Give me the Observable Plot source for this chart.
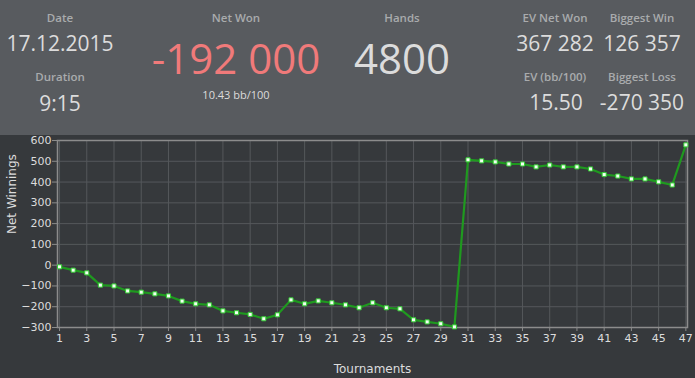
<!DOCTYPE html>
<html><head><meta charset="utf-8">
<script src="https://cdn.jsdelivr.net/npm/d3@7"></script>
<script src="https://cdn.jsdelivr.net/npm/@observablehq/plot@0.6"></script>
<style>
html,body{margin:0;padding:0;background:#36393c;}
#wrap{width:695px;height:378px;position:relative;overflow:hidden;}
#head{position:absolute;left:0;top:0;width:695px;height:135px;background:#585b5f;font-family:"Open Sans",sans-serif;}
.t{position:absolute;transform:translate(-50%,-50%);white-space:nowrap;line-height:1;}
.lab{color:#a9abad;font-size:11.5px;font-weight:600;}
.val{color:#dcdcdc;font-size:21px;}
.big{font-size:42px;color:#dcdcdc;}
#chart{position:absolute;left:0;top:135px;width:695px;height:243px;background:#36393c;}
</style></head>
<body><div id="wrap">
<div id="head"></div>
<div id="chart"></div>
</div>
<script>
// Header statistics
const statLabels = ["Date","Duration","Net Won","Hands","EV Net Won","EV (bb/100)","Biggest Win","Biggest Loss"];
const statValues = ["17.12.2015","9:15","-192 000","4800","367 282","15.50","126 357","-270 350"];
const subValue = "10.43 bb/100";

// Chart data
const tournaments = d3.range(1, 48);
const netWinnings = [-8,-24,-37,-96,-100,-124,-130,-138,-148,-173,-186,-191,-220,-229,-237,-258,-239,-167,-186,-172,-181,-191,-205,-181,-205,-210,-263,-273,-282,-297,507,502,497,487,487,473,482,473,473,463,436,429,415,415,401,386,579];
const yTicks = d3.range(-300, 601, 100);
const xTicks = d3.range(1, 48, 2);

const head = document.getElementById("head");
function put(text, cls, x, y, extra) {
  const d = document.createElement("div");
  d.className = "t " + cls;
  d.textContent = text;
  d.style.left = x + "px"; d.style.top = y + "px";
  if (extra) Object.assign(d.style, extra);
  head.appendChild(d);
}
put(statLabels[0], "lab", 60, 18);
put(statValues[0], "val", 60, 43);
put(statLabels[1], "lab", 60, 77);
put(statValues[1], "val", 60, 103);
put(statLabels[2], "lab", 236, 18);
put(statValues[2], "big", 236, 58, {color:"#f07a7a"});
put(subValue, "lab", 236, 94, {color:"#dcdcdc", fontWeight:"400", fontSize:"11px"});
put(statLabels[3], "lab", 402, 18);
put(statValues[3], "big", 402, 58);
put(statLabels[4], "lab", 555, 18);
put(statValues[4], "val", 555, 43);
put(statLabels[5], "lab", 555, 77);
put(statValues[5], "val", 556, 102);
put(statLabels[6], "lab", 642, 18);
put(statValues[6], "val", 642, 43);
put(statLabels[7], "lab", 642, 77);
put(statValues[7], "val", 642, 102);

const data = tournaments.map((t, i) => ({t, v: netWinnings[i]}));

const chart = Plot.plot({
  width: 695, height: 243,
  marginTop: 5, marginRight: 8, marginBottom: 51, marginLeft: 57,
  style: {background: "transparent", color: "#dcdcdc", fontFamily: "DejaVu Sans", fontSize: "11px"},
  x: {domain: [0.85, 47.12], label: null},
  y: {domain: [-300, 600], label: null},
  marks: [
    Plot.gridX(xTicks, {stroke: "#55585b", strokeOpacity: 1}),
    Plot.gridY(yTicks, {stroke: "#55585b", strokeOpacity: 1}),
    Plot.frame({stroke: "#8c8c8c", strokeWidth: 1.5}),
    Plot.axisY(yTicks, {tickSize: 5, tickPadding: 1, stroke: "#8c8c8c", fill: "#dcdcdc", fontSize: 11, label: null}),
    Plot.axisX(xTicks, {tickSize: 4, tickPadding: 3, stroke: "#8c8c8c", fill: "#dcdcdc", fontSize: 11, label: null}),
    Plot.text(["Net Winnings"], {frameAnchor: "left", dx: -45, rotate: -90, fill: "#dcdcdc", fontSize: 12}),
    Plot.text(["Tournaments"], {frameAnchor: "bottom", dy: 45, fill: "#dcdcdc", fontSize: 12}),
    Plot.line(data, {x: "t", y: "v", stroke: "#1f991f", strokeWidth: 2.2}),
    Plot.dot(data, {x: "t", y: "v", symbol: "square", r: 2.3, fill: "#f2fff2", stroke: "#33cc33", strokeWidth: 1})
  ]
});
document.getElementById("chart").appendChild(chart);
</script>
</body></html>
